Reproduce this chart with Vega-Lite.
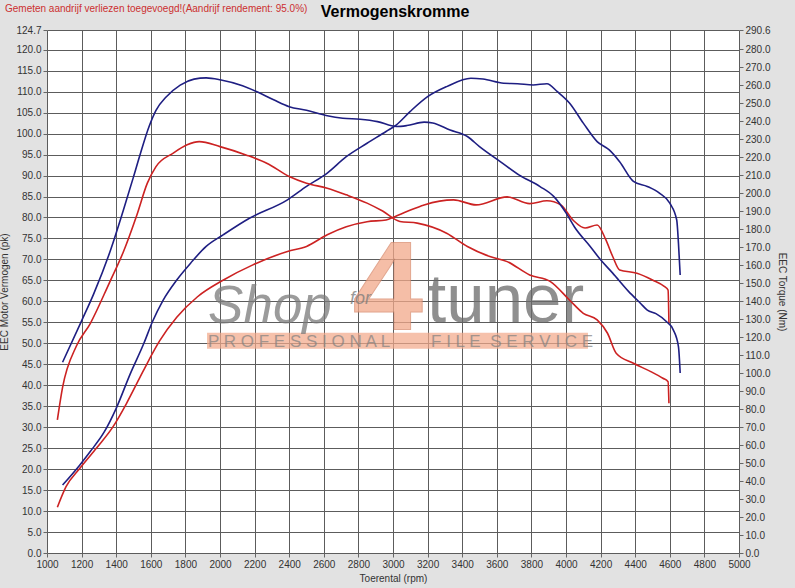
{
  "$schema": "https://vega.github.io/schema/vega-lite/v6.json",
  "width": 692,
  "height": 523,
  "autosize": {"type": "none"},
  "padding": {"left": 47, "top": 30, "right": 56, "bottom": 35},
  "background": "#e2e2e2",
  "config": {
    "view": {"fill": "#ffffff", "stroke": null},
    "font": "Liberation Sans",
    "axis": {
      "labelFont": "Liberation Sans",
      "labelFontSize": 10,
      "labelColor": "#333333",
      "labelOverlap": false,
      "titleFont": "Liberation Sans",
      "titleFontSize": 10,
      "titleFontWeight": "normal",
      "titleColor": "#333333",
      "tickColor": "#666666",
      "tickSize": 4,
      "gridColor": "#5c5c5c",
      "gridOpacity": 1,
      "gridWidth": 1,
      "domain": false
    }
  },
  "datasets": {
    "curves": [
      {"rpm": 1090, "v": 106, "k": "T", "c": "tuned"},
      {"rpm": 1200, "v": 129, "k": "T", "c": "tuned"},
      {"rpm": 1270, "v": 144, "k": "T", "c": "tuned"},
      {"rpm": 1370, "v": 169, "k": "T", "c": "tuned"},
      {"rpm": 1440, "v": 190, "k": "T", "c": "tuned"},
      {"rpm": 1500, "v": 209, "k": "T", "c": "tuned"},
      {"rpm": 1540, "v": 222, "k": "T", "c": "tuned"},
      {"rpm": 1590, "v": 237, "k": "T", "c": "tuned"},
      {"rpm": 1630, "v": 246, "k": "T", "c": "tuned"},
      {"rpm": 1690, "v": 253.5, "k": "T", "c": "tuned"},
      {"rpm": 1770, "v": 260, "k": "T", "c": "tuned"},
      {"rpm": 1850, "v": 263.3, "k": "T", "c": "tuned"},
      {"rpm": 1920, "v": 264, "k": "T", "c": "tuned"},
      {"rpm": 2000, "v": 263, "k": "T", "c": "tuned"},
      {"rpm": 2130, "v": 259.6, "k": "T", "c": "tuned"},
      {"rpm": 2210, "v": 256.4, "k": "T", "c": "tuned"},
      {"rpm": 2310, "v": 251.8, "k": "T", "c": "tuned"},
      {"rpm": 2400, "v": 248, "k": "T", "c": "tuned"},
      {"rpm": 2500, "v": 246, "k": "T", "c": "tuned"},
      {"rpm": 2620, "v": 243, "k": "T", "c": "tuned"},
      {"rpm": 2710, "v": 241.6, "k": "T", "c": "tuned"},
      {"rpm": 2810, "v": 241, "k": "T", "c": "tuned"},
      {"rpm": 2910, "v": 239.7, "k": "T", "c": "tuned"},
      {"rpm": 3020, "v": 237, "k": "T", "c": "tuned"},
      {"rpm": 3080, "v": 237.5, "k": "T", "c": "tuned"},
      {"rpm": 3180, "v": 239.4, "k": "T", "c": "tuned"},
      {"rpm": 3230, "v": 238.9, "k": "T", "c": "tuned"},
      {"rpm": 3330, "v": 235, "k": "T", "c": "tuned"},
      {"rpm": 3430, "v": 231.4, "k": "T", "c": "tuned"},
      {"rpm": 3500, "v": 225.8, "k": "T", "c": "tuned"},
      {"rpm": 3620, "v": 217.5, "k": "T", "c": "tuned"},
      {"rpm": 3730, "v": 210, "k": "T", "c": "tuned"},
      {"rpm": 3850, "v": 203.6, "k": "T", "c": "tuned"},
      {"rpm": 3930, "v": 198, "k": "T", "c": "tuned"},
      {"rpm": 4000, "v": 189, "k": "T", "c": "tuned"},
      {"rpm": 4050, "v": 181, "k": "T", "c": "tuned"},
      {"rpm": 4140, "v": 170.3, "k": "T", "c": "tuned"},
      {"rpm": 4200, "v": 162.9, "k": "T", "c": "tuned"},
      {"rpm": 4270, "v": 155.5, "k": "T", "c": "tuned"},
      {"rpm": 4360, "v": 145.5, "k": "T", "c": "tuned"},
      {"rpm": 4430, "v": 138.8, "k": "T", "c": "tuned"},
      {"rpm": 4470, "v": 135, "k": "T", "c": "tuned"},
      {"rpm": 4520, "v": 133, "k": "T", "c": "tuned"},
      {"rpm": 4580, "v": 128.6, "k": "T", "c": "tuned"},
      {"rpm": 4620, "v": 124, "k": "T", "c": "tuned"},
      {"rpm": 4650, "v": 114.7, "k": "T", "c": "tuned"},
      {"rpm": 4660, "v": 100, "k": "T", "c": "tuned"},

      {"rpm": 1090, "v": 16.2, "k": "P", "c": "tuned"},
      {"rpm": 1190, "v": 21, "k": "P", "c": "tuned"},
      {"rpm": 1250, "v": 24.2, "k": "P", "c": "tuned"},
      {"rpm": 1330, "v": 28.8, "k": "P", "c": "tuned"},
      {"rpm": 1400, "v": 34.5, "k": "P", "c": "tuned"},
      {"rpm": 1480, "v": 42.6, "k": "P", "c": "tuned"},
      {"rpm": 1560, "v": 50, "k": "P", "c": "tuned"},
      {"rpm": 1610, "v": 55.2, "k": "P", "c": "tuned"},
      {"rpm": 1670, "v": 60.2, "k": "P", "c": "tuned"},
      {"rpm": 1750, "v": 65.1, "k": "P", "c": "tuned"},
      {"rpm": 1830, "v": 69.1, "k": "P", "c": "tuned"},
      {"rpm": 1920, "v": 73.1, "k": "P", "c": "tuned"},
      {"rpm": 2020, "v": 75.9, "k": "P", "c": "tuned"},
      {"rpm": 2170, "v": 79.8, "k": "P", "c": "tuned"},
      {"rpm": 2390, "v": 84.2, "k": "P", "c": "tuned"},
      {"rpm": 2500, "v": 87.4, "k": "P", "c": "tuned"},
      {"rpm": 2620, "v": 90.6, "k": "P", "c": "tuned"},
      {"rpm": 2730, "v": 94.5, "k": "P", "c": "tuned"},
      {"rpm": 2850, "v": 97.7, "k": "P", "c": "tuned"},
      {"rpm": 2960, "v": 100.5, "k": "P", "c": "tuned"},
      {"rpm": 3020, "v": 102.1, "k": "P", "c": "tuned"},
      {"rpm": 3100, "v": 105.3, "k": "P", "c": "tuned"},
      {"rpm": 3200, "v": 108.8, "k": "P", "c": "tuned"},
      {"rpm": 3310, "v": 111.2, "k": "P", "c": "tuned"},
      {"rpm": 3450, "v": 113.2, "k": "P", "c": "tuned"},
      {"rpm": 3520, "v": 113, "k": "P", "c": "tuned"},
      {"rpm": 3640, "v": 112, "k": "P", "c": "tuned"},
      {"rpm": 3720, "v": 111.9, "k": "P", "c": "tuned"},
      {"rpm": 3810, "v": 111.6, "k": "P", "c": "tuned"},
      {"rpm": 3890, "v": 111.9, "k": "P", "c": "tuned"},
      {"rpm": 3950, "v": 110, "k": "P", "c": "tuned"},
      {"rpm": 4020, "v": 107.3, "k": "P", "c": "tuned"},
      {"rpm": 4100, "v": 102.5, "k": "P", "c": "tuned"},
      {"rpm": 4180, "v": 98.1, "k": "P", "c": "tuned"},
      {"rpm": 4250, "v": 96.1, "k": "P", "c": "tuned"},
      {"rpm": 4310, "v": 93.3, "k": "P", "c": "tuned"},
      {"rpm": 4390, "v": 88.6, "k": "P", "c": "tuned"},
      {"rpm": 4470, "v": 87.4, "k": "P", "c": "tuned"},
      {"rpm": 4540, "v": 85.8, "k": "P", "c": "tuned"},
      {"rpm": 4600, "v": 83.4, "k": "P", "c": "tuned"},
      {"rpm": 4640, "v": 79.4, "k": "P", "c": "tuned"},
      {"rpm": 4650, "v": 73.9, "k": "P", "c": "tuned"},
      {"rpm": 4660, "v": 66.3, "k": "P", "c": "tuned"},

      {"rpm": 1060, "v": 74, "k": "T", "c": "stock"},
      {"rpm": 1090, "v": 92, "k": "T", "c": "stock"},
      {"rpm": 1170, "v": 115, "k": "T", "c": "stock"},
      {"rpm": 1250, "v": 127.5, "k": "T", "c": "stock"},
      {"rpm": 1360, "v": 150, "k": "T", "c": "stock"},
      {"rpm": 1440, "v": 167, "k": "T", "c": "stock"},
      {"rpm": 1520, "v": 188, "k": "T", "c": "stock"},
      {"rpm": 1580, "v": 205.5, "k": "T", "c": "stock"},
      {"rpm": 1630, "v": 214.7, "k": "T", "c": "stock"},
      {"rpm": 1730, "v": 222.2, "k": "T", "c": "stock"},
      {"rpm": 1810, "v": 226.8, "k": "T", "c": "stock"},
      {"rpm": 1880, "v": 228.6, "k": "T", "c": "stock"},
      {"rpm": 2000, "v": 225.8, "k": "T", "c": "stock"},
      {"rpm": 2150, "v": 221.2, "k": "T", "c": "stock"},
      {"rpm": 2270, "v": 216.6, "k": "T", "c": "stock"},
      {"rpm": 2400, "v": 209.2, "k": "T", "c": "stock"},
      {"rpm": 2500, "v": 205.5, "k": "T", "c": "stock"},
      {"rpm": 2620, "v": 202.7, "k": "T", "c": "stock"},
      {"rpm": 2730, "v": 199, "k": "T", "c": "stock"},
      {"rpm": 2850, "v": 194.4, "k": "T", "c": "stock"},
      {"rpm": 2940, "v": 190, "k": "T", "c": "stock"},
      {"rpm": 3040, "v": 184.2, "k": "T", "c": "stock"},
      {"rpm": 3140, "v": 183.3, "k": "T", "c": "stock"},
      {"rpm": 3310, "v": 177.7, "k": "T", "c": "stock"},
      {"rpm": 3430, "v": 170.3, "k": "T", "c": "stock"},
      {"rpm": 3560, "v": 164.7, "k": "T", "c": "stock"},
      {"rpm": 3660, "v": 161.9, "k": "T", "c": "stock"},
      {"rpm": 3790, "v": 154.5, "k": "T", "c": "stock"},
      {"rpm": 3910, "v": 150.8, "k": "T", "c": "stock"},
      {"rpm": 4020, "v": 140.6, "k": "T", "c": "stock"},
      {"rpm": 4100, "v": 133.2, "k": "T", "c": "stock"},
      {"rpm": 4180, "v": 129.5, "k": "T", "c": "stock"},
      {"rpm": 4240, "v": 122.1, "k": "T", "c": "stock"},
      {"rpm": 4290, "v": 111, "k": "T", "c": "stock"},
      {"rpm": 4390, "v": 105.4, "k": "T", "c": "stock"},
      {"rpm": 4490, "v": 100.8, "k": "T", "c": "stock"},
      {"rpm": 4560, "v": 97.1, "k": "T", "c": "stock"},
      {"rpm": 4590, "v": 95.2, "k": "T", "c": "stock"},
      {"rpm": 4595, "v": 83.2, "k": "T", "c": "stock"},

      {"rpm": 1060, "v": 10.9, "k": "P", "c": "stock"},
      {"rpm": 1110, "v": 15.8, "k": "P", "c": "stock"},
      {"rpm": 1190, "v": 20.2, "k": "P", "c": "stock"},
      {"rpm": 1290, "v": 25.2, "k": "P", "c": "stock"},
      {"rpm": 1380, "v": 30, "k": "P", "c": "stock"},
      {"rpm": 1460, "v": 35.7, "k": "P", "c": "stock"},
      {"rpm": 1540, "v": 42.1, "k": "P", "c": "stock"},
      {"rpm": 1580, "v": 45.3, "k": "P", "c": "stock"},
      {"rpm": 1650, "v": 50.5, "k": "P", "c": "stock"},
      {"rpm": 1750, "v": 56.2, "k": "P", "c": "stock"},
      {"rpm": 1870, "v": 61.1, "k": "P", "c": "stock"},
      {"rpm": 2020, "v": 65.1, "k": "P", "c": "stock"},
      {"rpm": 2190, "v": 68.7, "k": "P", "c": "stock"},
      {"rpm": 2390, "v": 71.9, "k": "P", "c": "stock"},
      {"rpm": 2500, "v": 73.1, "k": "P", "c": "stock"},
      {"rpm": 2620, "v": 75.9, "k": "P", "c": "stock"},
      {"rpm": 2730, "v": 77.8, "k": "P", "c": "stock"},
      {"rpm": 2850, "v": 79, "k": "P", "c": "stock"},
      {"rpm": 2960, "v": 79.4, "k": "P", "c": "stock"},
      {"rpm": 3010, "v": 80.2, "k": "P", "c": "stock"},
      {"rpm": 3080, "v": 81.4, "k": "P", "c": "stock"},
      {"rpm": 3180, "v": 83, "k": "P", "c": "stock"},
      {"rpm": 3350, "v": 84.2, "k": "P", "c": "stock"},
      {"rpm": 3480, "v": 83, "k": "P", "c": "stock"},
      {"rpm": 3660, "v": 84.9, "k": "P", "c": "stock"},
      {"rpm": 3790, "v": 83.3, "k": "P", "c": "stock"},
      {"rpm": 3890, "v": 84, "k": "P", "c": "stock"},
      {"rpm": 3970, "v": 83, "k": "P", "c": "stock"},
      {"rpm": 4040, "v": 79.4, "k": "P", "c": "stock"},
      {"rpm": 4110, "v": 77.5, "k": "P", "c": "stock"},
      {"rpm": 4180, "v": 78.2, "k": "P", "c": "stock"},
      {"rpm": 4230, "v": 74.7, "k": "P", "c": "stock"},
      {"rpm": 4270, "v": 70.7, "k": "P", "c": "stock"},
      {"rpm": 4310, "v": 67.5, "k": "P", "c": "stock"},
      {"rpm": 4410, "v": 66.7, "k": "P", "c": "stock"},
      {"rpm": 4500, "v": 65.1, "k": "P", "c": "stock"},
      {"rpm": 4570, "v": 63.5, "k": "P", "c": "stock"},
      {"rpm": 4590, "v": 62.7, "k": "P", "c": "stock"},
      {"rpm": 4595, "v": 54.8, "k": "P", "c": "stock"}
    ]
  },
  "data": {"name": "curves"},
  "layer": [
    {
      "layer": [
        {
          "data": {"values": [{}]},
          "mark": {"type": "rect", "fill": "#f2a98a", "opacity": 0.72},
          "encoding": {
            "x": {"datum": 1925, "type": "quantitative", "scale": {"domain": [1000, 5000], "nice": false, "zero": false}, "axis": null},
            "x2": {"datum": 4127},
            "y": {"datum": 52.5, "type": "quantitative", "scale": {"domain": [0, 124.7], "nice": false, "zero": true}, "axis": null},
            "y2": {"datum": 48.7}
          }
        },
        {
          "data": {"values": [{}]},
          "mark": {"type": "text", "font": "Liberation Sans", "fontSize": 126, "fontWeight": "bold", "align": "center", "baseline": "alphabetic", "fill": "#f2a98a", "opacity": 0.75, "stroke": "#d98a6c", "strokeWidth": 1},
          "encoding": {
            "x": {"datum": 2970, "type": "quantitative", "axis": null},
            "y": {"datum": 53.2, "type": "quantitative", "axis": null},
            "text": {"value": "4"}
          }
        },
        {
          "data": {"values": [{}]},
          "mark": {"type": "text", "font": "Liberation Sans", "fontSize": 53, "fontStyle": "italic", "align": "left", "baseline": "alphabetic", "fill": "#7a7a7a", "opacity": 0.75},
          "encoding": {
            "x": {"datum": 1931, "type": "quantitative", "axis": null},
            "y": {"datum": 54.9, "type": "quantitative", "axis": null},
            "text": {"value": "Shop"}
          }
        },
        {
          "data": {"values": [{}]},
          "mark": {"type": "text", "font": "Liberation Sans", "fontSize": 18, "fontStyle": "italic", "align": "left", "baseline": "alphabetic", "fill": "#7a7a7a", "opacity": 0.75},
          "encoding": {
            "x": {"datum": 2751, "type": "quantitative", "axis": null},
            "y": {"datum": 59.4, "type": "quantitative", "axis": null},
            "text": {"value": "for"}
          }
        },
        {
          "data": {"values": [{}]},
          "mark": {"type": "text", "font": "Liberation Sans", "fontSize": 69, "align": "left", "baseline": "alphabetic", "fill": "#6a6a6a", "opacity": 0.75},
          "encoding": {
            "x": {"datum": 3197, "type": "quantitative", "axis": null},
            "y": {"datum": 55.1, "type": "quantitative", "axis": null},
            "text": {"value": "tuner"}
          }
        },
        {
          "data": {"values": [{"t": "P R O F E S S I O N A L", "x": 1931}, {"t": "F I L E", "x": 3220}, {"t": "S E R V I C E", "x": 3562}]},
          "mark": {"type": "text", "font": "Liberation Sans", "fontSize": 17, "align": "left", "baseline": "alphabetic", "fill": "#808080", "opacity": 0.7},
          "encoding": {
            "x": {"field": "x", "type": "quantitative", "axis": null},
            "y": {"datum": 49.1, "type": "quantitative", "axis": null},
            "text": {"field": "t"}
          }
        },
        {
          "data": {"values": [{}]},
          "mark": {"type": "text", "font": "Liberation Sans", "fontSize": 10, "align": "left", "baseline": "middle", "fill": "#cc3030"},
          "encoding": {
            "x": {"datum": 757, "type": "quantitative", "axis": null},
            "y": {"datum": 129.8, "type": "quantitative", "axis": null},
            "text": {"value": "Gemeten aandrijf verliezen toegevoegd!(Aandrijf rendement: 95.0%)"}
          }
        },
        {
          "data": {"values": [{}]},
          "mark": {"type": "text", "font": "Liberation Sans", "fontSize": 16, "fontWeight": "bold", "align": "center", "baseline": "middle", "fill": "#000000"},
          "encoding": {
            "x": {"datum": 3012, "type": "quantitative", "axis": null},
            "y": {"datum": 129.1, "type": "quantitative", "axis": null},
            "text": {"value": "Vermogenskromme"}
          }
        }
      ]
    },
    {
      "transform": [{"filter": "datum.k === 'P'"}],
      "mark": {"type": "line", "strokeWidth": 1.6, "interpolate": "monotone"},
      "encoding": {
        "x": {
          "field": "rpm",
          "type": "quantitative",
          "scale": {"domain": [1000, 5000], "nice": false, "zero": false},
          "axis": {
            "title": "Toerental (rpm)",
            "values": [1000, 1200, 1400, 1600, 1800, 2000, 2200, 2400, 2600, 2800, 3000, 3200, 3400, 3600, 3800, 4000, 4200, 4400, 4600, 4800, 5000],
            "format": "d",
            "grid": true,
            "labelOverlap": false,
            "labelPadding": 2,
            "titlePadding": 4,
            "labelFlush": false
          }
        },
        "y": {
          "field": "v",
          "type": "quantitative",
          "scale": {"domain": [0, 124.7], "nice": false, "zero": true},
          "axis": {
            "orient": "left",
            "title": "EEC Motor Vermogen (pk)",
            "values": [0, 5, 10, 15, 20, 25, 30, 35, 40, 45, 50, 55, 60, 65, 70, 75, 80, 85, 90, 95, 100, 105, 110, 115, 120, 124.7],
            "format": ".1f",
            "grid": true,
            "labelOverlap": false,
            "labelPadding": 2,
            "titlePadding": 6,
            "labelFlush": false
          }
        },
        "color": {
          "field": "c",
          "type": "nominal",
          "scale": {"domain": ["tuned", "stock"], "range": ["#1e1e82", "#cc2222"]},
          "legend": null
        }
      }
    },
    {
      "transform": [{"filter": "datum.k === 'T'"}],
      "mark": {"type": "line", "strokeWidth": 1.6, "interpolate": "monotone"},
      "encoding": {
        "x": {"field": "rpm", "type": "quantitative", "scale": {"domain": [1000, 5000], "nice": false, "zero": false}, "axis": null},
        "y": {
          "field": "v",
          "type": "quantitative",
          "scale": {"domain": [0, 290.6], "nice": false, "zero": true},
          "axis": {
            "orient": "right",
            "title": "EEC Torque (Nm)",
            "values": [0, 10, 20, 30, 40, 50, 60, 70, 80, 90, 100, 110, 120, 130, 140, 150, 160, 170, 180, 190, 200, 210, 220, 230, 240, 250, 260, 270, 280, 290.6],
            "format": ".1f",
            "grid": false,
            "labelOverlap": false,
            "labelPadding": 2,
            "titlePadding": 6,
            "labelFlush": false
          }
        },
        "color": {
          "field": "c",
          "type": "nominal",
          "scale": {"domain": ["tuned", "stock"], "range": ["#1e1e82", "#cc2222"]},
          "legend": null
        }
      }
    }
  ],
  "resolve": {"scale": {"y": "independent"}, "axis": {"x": "independent", "y": "independent"}}
}
